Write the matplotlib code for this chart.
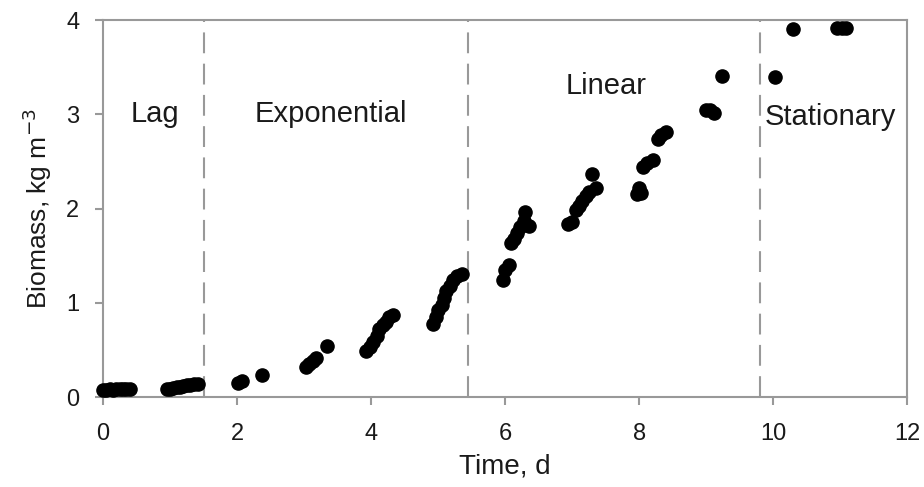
import numpy as np
import matplotlib.pyplot as plt

plt.rcParams['font.family'] = ['Liberation Sans', 'DejaVu Sans']

# time (d) and biomass (kg m^-3)
time = [0.0, 0.05, 0.1, 0.15, 0.2, 0.25, 0.3, 0.35, 0.4,
        0.95, 1.0, 1.05, 1.1, 1.15, 1.2, 1.25, 1.3, 1.35, 1.42,
        2.02, 2.08, 2.37,
        3.03, 3.08, 3.13, 3.18, 3.34,
        3.93, 3.98, 4.03, 4.08, 4.12, 4.18, 4.22, 4.27, 4.33,
        4.93, 4.97, 5.0, 5.05, 5.08, 5.12, 5.18, 5.22, 5.28, 5.35,
        5.96, 6.0, 6.05, 6.08, 6.13, 6.17, 6.22, 6.28, 6.3, 6.35,
        6.93, 7.0, 7.05, 7.1, 7.15, 7.2, 7.25, 7.3, 7.35,
        7.97, 8.03, 8.0, 8.05, 8.12, 8.2, 8.28, 8.33, 8.4,
        9.0, 9.05, 9.12, 9.24,
        10.03, 10.3, 10.95, 11.02, 11.08]
biomass = [0.07, 0.07, 0.08, 0.07, 0.08, 0.08, 0.08, 0.08, 0.08,
           0.08, 0.09, 0.1, 0.11, 0.11, 0.12, 0.13, 0.13, 0.14, 0.14,
           0.15, 0.17, 0.23,
           0.32, 0.35, 0.38, 0.41, 0.54,
           0.49, 0.53, 0.58, 0.65, 0.72, 0.76, 0.8, 0.85, 0.87,
           0.77, 0.85, 0.92, 0.98, 1.05, 1.12, 1.18, 1.24, 1.28, 1.31,
           1.24, 1.35, 1.40, 1.63, 1.68, 1.74, 1.8, 1.87, 1.96, 1.81,
           1.84, 1.86, 1.98, 2.03, 2.08, 2.13, 2.17, 2.37, 2.22,
           2.15, 2.16, 2.22, 2.44, 2.48, 2.52, 2.74, 2.78, 2.81,
           3.05, 3.04, 3.01, 3.41,
           3.40, 3.90, 3.91, 3.91, 3.91]

phase_bounds = [1.5, 5.45, 9.8]
phase_names = ['Lag', 'Exponential', 'Linear', 'Stationary']
phase_label_x = [0.78, 3.4, 7.5, 10.85]
phase_label_y = [3.0, 3.0, 3.3, 2.97]

fig = plt.figure(figsize=(9.24, 4.87), dpi=100)
ax = fig.add_axes([0.1115, 0.1848, 0.8705, 0.7741])

ax.scatter(time, biomass, s=90, color='black', zorder=3, clip_on=False)

# phase boundaries
for xb in phase_bounds:
    ax.axvline(xb, color='#999999', lw=1.5, ls=(0, (10, 5)), zorder=1)

for name, xl, yl in zip(phase_names, phase_label_x, phase_label_y):
    ax.text(xl, yl, name, fontsize=21, ha='center', va='center', color='#1a1a1a')

ax.set_xlim(0, 12)
ax.set_ylim(0, 4)
ax.set_xticks(np.arange(0, 13, 2))
ax.set_yticks(np.arange(0, 5, 1))
ax.set_xlabel('Time, d', fontsize=20, color='#1a1a1a', labelpad=6)
ax.set_ylabel('Biomass, kg m$^{-3}$', fontsize=19, color='#1a1a1a', labelpad=9)

for sp in ax.spines.values():
    sp.set_color('#999999')
    sp.set_linewidth(1.5)
ax.tick_params(direction='out', length=6, width=1.5, color='#999999',
               labelsize=17, labelcolor='#1a1a1a')
ax.tick_params(axis='x', pad=13)
ax.tick_params(axis='y', pad=11)

fig.savefig('out.png', dpi=100)
